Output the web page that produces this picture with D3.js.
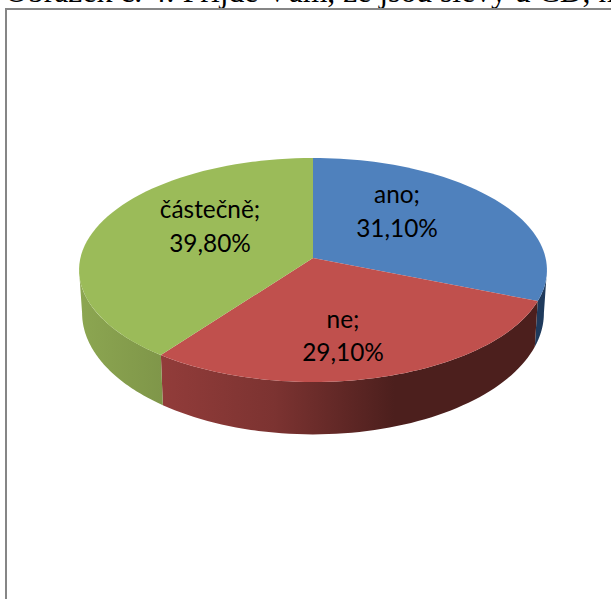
<!DOCTYPE html>
<html><head><meta charset="utf-8">
<script src="https://cdn.jsdelivr.net/npm/d3@7"></script>
<style>html,body{margin:0;padding:0;background:#fff;overflow:hidden}svg{display:block}</style>
</head><body><svg id="c" width="611" height="599"></svg>
<script>
const categories = ["ano", "ne", "částečně"];
const values = [31.1, 29.1, 39.8];
const valueLabels = ["31,10%", "29,10%", "39,80%"];
const topColors = ["#4f81bd", "#c0504d", "#9bbb59"];
const sideStops = [
  [[0, "#1f3a5c"], [1, "#1f3a5c"]],
  [[0, "#923c3a"], [0.3, "#7c3331"], [0.62, "#4c1f1d"], [1, "#4c1f1d"]],
  [[0, "#8ca651"], [1, "#7f9649"]]
];
const title = "Obrázek č. 4: Přijde Vám, že jsou slevy u CD, n";

const svg = d3.select("#c");
const cx = 313, k = -0.107, c = 232.6;
const top_ = {a: 258, b: 110.7, s: 1};
const bot = {a: 300, b: 120, s: 0.987};
const proj = (ang, f) => {
  const u = Math.sin(ang), v = -Math.cos(ang), d = 1 + k * v;
  return [cx + f.s * c * u / d, f.a + f.b * v / d];
};
const sample = (a0, a1, f) => d3.range(0, 61).map(i => proj(a0 + (a1 - a0) * i / 60, f));
const line = d3.line();

const pie = d3.pie().sort(null).value(d => d);
const arcs = pie(values);
const defs = svg.append("defs");

svg.append("text").attr("x", 5).attr("y", 2)
  .attr("font-family", "Liberation Serif").attr("font-size", 31.7).attr("fill", "#000").text(title);
svg.append("rect").attr("x", 6).attr("y", 9).attr("width", 640).attr("height", 640)
  .attr("fill", "#fff").attr("stroke", "#868686").attr("stroke-width", 2);

// visible side: only the near part between the two silhouette points
arcs.forEach((d, i) => {
  const a0 = Math.max(d.startAngle, Math.PI / 2 + 0.107), a1 = Math.min(d.endAngle, 3 * Math.PI / 2 - 0.107);
  if (a1 <= a0) return;
  const t = sample(a0, a1, top_), b = sample(a0, a1, bot);
  const ext = d3.extent(t.concat(b), p => p[0]);
  const id = "side" + i;
  const g = defs.append("linearGradient").attr("id", id).attr("gradientUnits", "userSpaceOnUse")
    .attr("x1", ext[0]).attr("x2", ext[1]).attr("y1", 0).attr("y2", 0);
  sideStops[i].forEach(s => g.append("stop").attr("offset", s[0]).attr("stop-color", s[1]));
  svg.append("path").attr("d", line(t.concat(b.reverse())) + "Z").attr("fill", `url(#${id})`);
});

// top face
arcs.forEach((d, i) => {
  const pts = [[cx, top_.a]].concat(sample(d.startAngle, d.endAngle, top_));
  svg.append("path").attr("d", line(pts) + "Z").attr("fill", topColors[i]);
});

// labels
const labelPos = [[397, 203, 237], [343, 328, 361], [210, 218, 252]];
categories.forEach((n, i) => {
  const t = svg.append("text").attr("text-anchor", "middle")
    .attr("font-family", "Lato").attr("font-size", 24.4).attr("fill", "#000");
  t.append("tspan").attr("x", labelPos[i][0]).attr("y", labelPos[i][1]).text(n + ";");
  t.append("tspan").attr("x", labelPos[i][0]).attr("y", labelPos[i][2]).text(valueLabels[i]);
});
</script></body></html>
